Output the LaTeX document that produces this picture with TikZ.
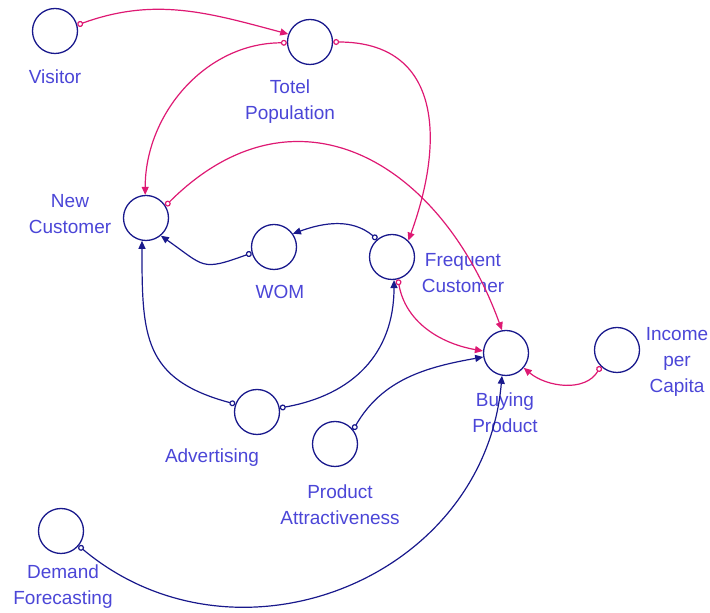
\documentclass[tikz,border=0pt]{standalone}
\usepackage{fontspec}
\setmainfont{Liberation Sans}
\usetikzlibrary{arrows.meta}

\definecolor{lnk}{RGB}{222,25,115}
\definecolor{nav}{RGB}{25,25,140}
\definecolor{txt}{RGB}{75,70,215}

\begin{document}
\begin{tikzpicture}[x=1pt,y=1pt,font=\fontsize{19}{26}\selectfont,
  var/.style={circle,draw=nav,line width=1.3pt,minimum size=45pt,inner sep=0pt},
  lbl/.style={text=txt,align=center},
  cldlink/.style={line width=1.2pt,{Circle[open,length=6pt]}-{Triangle[length=8pt,width=7pt]}},
  redlink/.style={cldlink,draw=lnk},
  bluelink/.style={cldlink,draw=nav}]

\useasboundingbox (0,0) rectangle (710,613);

\begin{scope}
\node[var] (V) at (55,582) {};
\node[var] (P) at (310,571) {};
\node[var] (N) at (146,395) {};
\node[var] (W) at (274,366) {};
\node[var] (F) at (392,356) {};
\node[var] (B) at (506,260) {};
\node[var] (I) at (617,263) {};
\node[var] (A) at (257,201) {};
\node[var] (T) at (335,169) {};
\node[var] (D) at (61,82) {};

\node[lbl] (Vt) at (55,536) {Visitor};
\node[lbl] (Pt) at (290,511) {Totel\\Population};
\node[lbl] (Nt) at (70,399) {New\\Customer};
\node[lbl] (Wt) at (280,321) {WOM};
\node[lbl] (Ft) at (463,340) {Frequent\\Customer};
\node[lbl] (Bt) at (505,200) {Buying\\Product};
\node[lbl] (It) at (677,251) {Income\\per\\Capita};
\node[lbl] (At) at (212,155) {Advertising};
\node[lbl] (Tt) at (340,108) {Product\\Attractiveness};
\node[lbl] (Dt) at (63,26) {Demand\\Forecasting};

\draw[redlink] (V.15) to[out=20,in=165] (P.160);
\draw[redlink] (P.182) to[out=180,in=90] (N.92);
\draw[redlink] (P.0) to[out=0,in=70,looseness=1.3] (F.45);
\draw[redlink] (N.32) to[out=45,in=110,looseness=1.3] (B.100);
\draw[redlink] (F.-75) to[out=-80,in=170] (B.175);
\draw[redlink] (I.225) to[out=-120,in=-40] (B.-40);

\draw[bluelink] (W.195) to[out=200,in=-35,looseness=1.5] (N.-50);
\draw[bluelink] (F.130) to[out=140,in=20] (W.35);
\draw[bluelink] (A.160) to[out=165,in=-90,looseness=1.3] (N.-100);
\draw[bluelink] (A.10) to[out=10,in=-90,looseness=1.1] (F.-85);
\draw[bluelink] (T.38) to[out=60,in=190] (B.190);
\draw[bluelink] (D.-40) to[out=-40,in=-95,looseness=1.15] (B.-100);
\end{scope}

\end{tikzpicture}
\end{document}
